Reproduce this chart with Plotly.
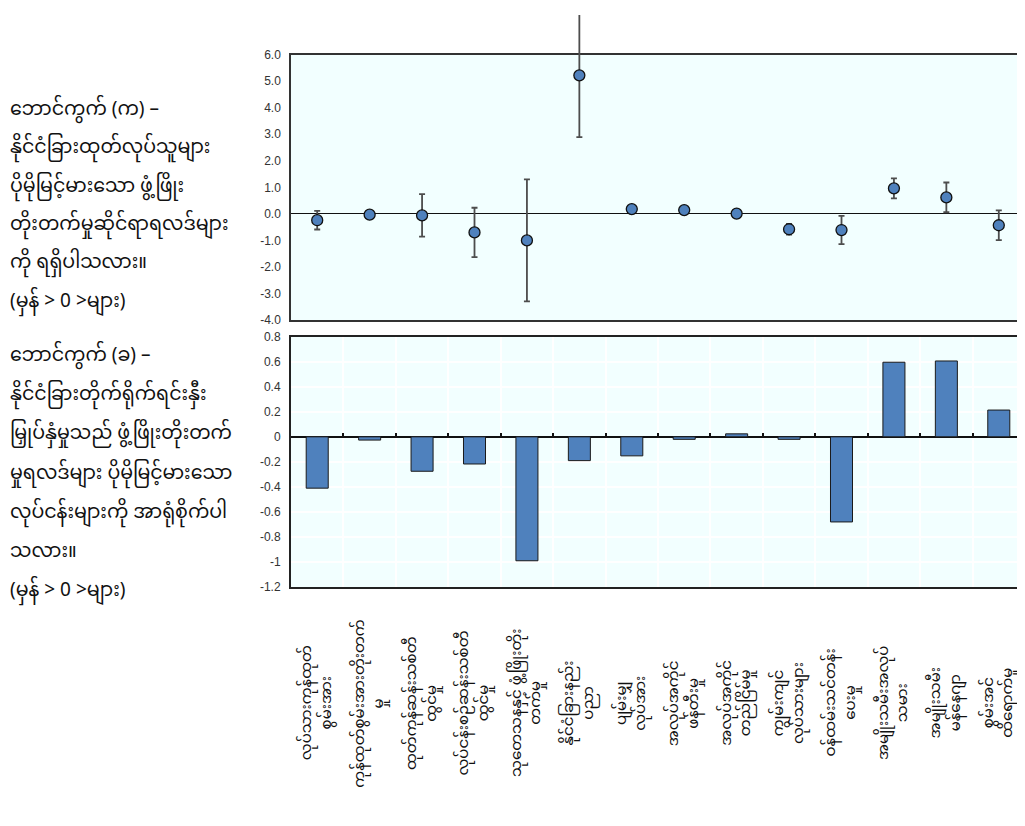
import plotly.graph_objects as go

# ---------------- data ----------------
categories = [
    "လုပ်သားကုန်ထုတ်<br>စွမ်းအား",
    "ကုန်ထုတ်စွမ်းအားတိုးတက်<br>မှု",
    "ထုတ်ကုန်ဆန်းသစ်တီ<br>ထွင်မှု",
    "လုပ်ငန်းစဉ်ဆန်းသစ်တီ<br>ထွင်မှု",
    "သုတေသနနှင့် ဖွံ့ဖြိုးတိုး<br>တက်မှု",
    "နိုင်ငံခြားနည်း<br>ပညာ",
    "ပျမ်းမျှ<br>လုပ်အား",
    "အလုပ်အကိုင်<br>ဖန်တီးမှု",
    "အလုပ်အကိုင်<br>တည်ငြိမ်မှု",
    "ကျွမ်းကျင်<br>လုပ်သားများ",
    "ဝန်ထမ်းသင်တန်း<br>ပေးမှု",
    "အမျိုးသမီးအလုပ်<br>သမား",
    "အမျိုးသမီး<br>မန်နေဂျာ",
    "စွမ်းအင်<br>ထိရောက်မှု",
]
panel_a_values = [-0.24, -0.03, -0.06, -0.70, -1.00, 5.22, 0.18, 0.14, 0.01, -0.58, -0.61, 0.96, 0.62, -0.43]
panel_a_errors = [0.35, 0.08, 0.80, 0.93, 2.30, 2.33, 0.0, 0.0, 0.0, 0.20, 0.53, 0.38, 0.56, 0.56]
panel_b_values = [-0.41, -0.026, -0.275, -0.217, -0.99, -0.19, -0.152, -0.02, 0.024, -0.02, -0.68, 0.596, 0.606, 0.214]

a_tickvals = [6, 5, 4, 3, 2, 1, 0, -1, -2, -3, -4]
a_ticktext = ["6.0", "5.0", "4.0", "3.0", "2.0", "1.0", "0.0", "-1.0", "-2.0", "-3.0", "-4.0"]
b_tickvals = [0.8, 0.6, 0.4, 0.2, 0, -0.2, -0.4, -0.6, -0.8, -1.0, -1.2]
b_ticktext = ["0.8", "0.6", "0.4", "0.2", "0", "-0.2", "-0.4", "-0.6", "-0.8", "-1", "-1.2"]

panel_a_title = [
    "ဘောင်ကွက် (က) –",
    "နိုင်ငံခြားထုတ်လုပ်သူများ",
    "ပိုမိုမြင့်မားသော ဖွံ့ဖြိုး",
    "တိုးတက်မှုဆိုင်ရာရလဒ်များ",
    "ကို ရရှိပါသလား။",
    "(မှန် > 0 >များ)",
]
panel_b_title = [
    "ဘောင်ကွက် (ခ) –",
    "နိုင်ငံခြားတိုက်ရိုက်ရင်းနှီး",
    "မြှုပ်နှံမှုသည် ဖွံ့ဖြိုးတိုးတက်",
    "မှုရလဒ်များ ပိုမိုမြင့်မားသော",
    "လုပ်ငန်းများကို အာရုံစိုက်ပါ",
    "သလား။",
    "(မှန် > 0 >များ)",
]

# ---------------- layout geometry ----------------
# the page body has an 8px margin, so the figure is 1017x818 drawn at (8, 8)
OFF = 8
W, H = 1025 - OFF, 826 - OFF


def py(y_px):
    """window pixel row -> paper fraction"""
    return 1 - (y_px - OFF) / H


x_dom = [(291 - OFF) / W, 1.0]
ya_dom = [py(318.3), py(48.3)]
yb_dom = [py(590.0), py(335.3)]
a_range = [-4, 6]
b_range = [-1.2, 0.8]
zero_pos = yb_dom[0] + (0 - b_range[0]) / (b_range[1] - b_range[0]) * (yb_dom[1] - yb_dom[0])
# taller, invisible copy of panel A's y scale so the error bars may run above the frame
a_ext_top = a_range[0] + (1.0 - ya_dom[0]) / (ya_dom[1] - ya_dom[0]) * (a_range[1] - a_range[0])
n = len(categories)

blue = "#4F81BD"
bg = "#F2FFFF"
tick_font = dict(family="Liberation Sans, Arial, sans-serif", size=12, color="#333333")
mm_font = "Noto Sans Myanmar, Myanmar Text, Padauk, sans-serif"

fig = go.Figure()

fig.add_trace(go.Bar(
    x=categories, y=panel_b_values, width=0.42,
    marker=dict(color=blue, line=dict(color="#1a1a1a", width=1)),
    xaxis="x2", yaxis="y2", showlegend=False,
))

# invisible trace carrying the zero-line tick axis
fig.add_trace(go.Scatter(
    x=categories, y=[0] * n, mode="markers",
    marker=dict(opacity=0), xaxis="x3", yaxis="y2", showlegend=False, hoverinfo="skip",
))

# invisible trace so panel A's frame axes get the categories
fig.add_trace(go.Scatter(
    x=categories, y=[0] * n, mode="markers",
    marker=dict(opacity=0), xaxis="x", yaxis="y", showlegend=False, hoverinfo="skip",
))

fig.add_trace(go.Scatter(
    x=categories, y=panel_a_values, mode="markers",
    marker=dict(size=11, color=blue, line=dict(color="#111111", width=1.3)),
    error_y=dict(type="data", array=panel_a_errors, visible=True,
                 color="#4d4d4d", thickness=1.8, width=3),
    cliponaxis=False, xaxis="x4", yaxis="y4", showlegend=False,
))

fig.update_layout(
    width=W, height=H,
    margin=dict(l=0, r=0, t=0, b=0),
    paper_bgcolor="white",
    plot_bgcolor="rgba(0,0,0,0)",
    xaxis=dict(domain=x_dom, anchor="y", type="category", categoryarray=categories,
               range=[-0.5, n - 0.5],
               showticklabels=False, ticks="", showgrid=False, zeroline=False,
               showline=True, linecolor="#333333", linewidth=1.5, mirror=True),
    yaxis=dict(domain=ya_dom, anchor="x", range=a_range,
               tickvals=a_tickvals, ticktext=a_ticktext, tickfont=tick_font,
               ticks="", ticklabelstandoff=6,
               showgrid=False, zeroline=True, zerolinecolor="#111111", zerolinewidth=1.3,
               showline=True, linecolor="#333333", linewidth=1.5),
    xaxis4=dict(domain=x_dom, anchor="y4", type="category", categoryarray=categories,
                range=[-0.5, n - 0.5], visible=False),
    yaxis4=dict(domain=[ya_dom[0], 1.0], anchor="x4", range=[a_range[0], a_ext_top],
                visible=False),
    xaxis2=dict(domain=x_dom, anchor="y2", type="category", categoryarray=categories,
                range=[-0.5, n - 0.5],
                showticklabels=False, ticks="", tickson="boundaries",
                showgrid=True, gridcolor="white", gridwidth=1.5, zeroline=False,
                showline=True, linecolor="#222222", linewidth=2, mirror=True),
    yaxis2=dict(domain=yb_dom, anchor="x2", range=b_range,
                tickvals=b_tickvals, ticktext=b_ticktext, tickfont=tick_font,
                ticks="", ticklabelstandoff=6,
                showgrid=True, gridcolor="white", gridwidth=1.5,
                zeroline=True, zerolinecolor="#111111", zerolinewidth=2,
                showline=True, linecolor="#222222", linewidth=2),
    xaxis3=dict(overlaying="x2", anchor="free", position=zero_pos, type="category",
                categoryarray=categories, range=[-0.5, n - 0.5],
                matches="x2", showticklabels=False, ticks="inside", tickson="boundaries",
                ticklen=4, tickwidth=1.5, tickcolor="#111111",
                showgrid=False, zeroline=False, showline=False),
)

# panel backgrounds (drawn beneath grid lines and traces)
fig.add_shape(type="rect", xref="x domain", yref="y domain", x0=0, x1=1, y0=0, y1=1,
              fillcolor=bg, line=dict(width=0), layer="below")
fig.add_shape(type="rect", xref="x2 domain", yref="y2 domain", x0=0, x1=1, y0=0, y1=1,
              fillcolor=bg, line=dict(width=0), layer="below")

annotations = []
for i, line in enumerate(panel_a_title):
    annotations.append(dict(xref="paper", yref="paper", x=0.0, y=py(105 + i * 39),
                            xanchor="left", yanchor="middle", showarrow=False, text=line,
                            font=dict(family=mm_font, size=19, color="#111111")))
for i, line in enumerate(panel_b_title):
    annotations.append(dict(xref="paper", yref="paper", x=0.0, y=py(355 + i * 40),
                            xanchor="left", yanchor="middle", showarrow=False, text=line,
                            font=dict(family=mm_font, size=19, color="#111111")))
for c in categories:
    annotations.append(dict(xref="x2", yref="paper", x=c, y=py(708),
                            xanchor="center", yanchor="middle", textangle=-90,
                            showarrow=False, text=c, align="center",
                            font=dict(family=mm_font, size=15, color="#111111")))
fig.update_layout(annotations=annotations)

fig.write_html("out.html")
